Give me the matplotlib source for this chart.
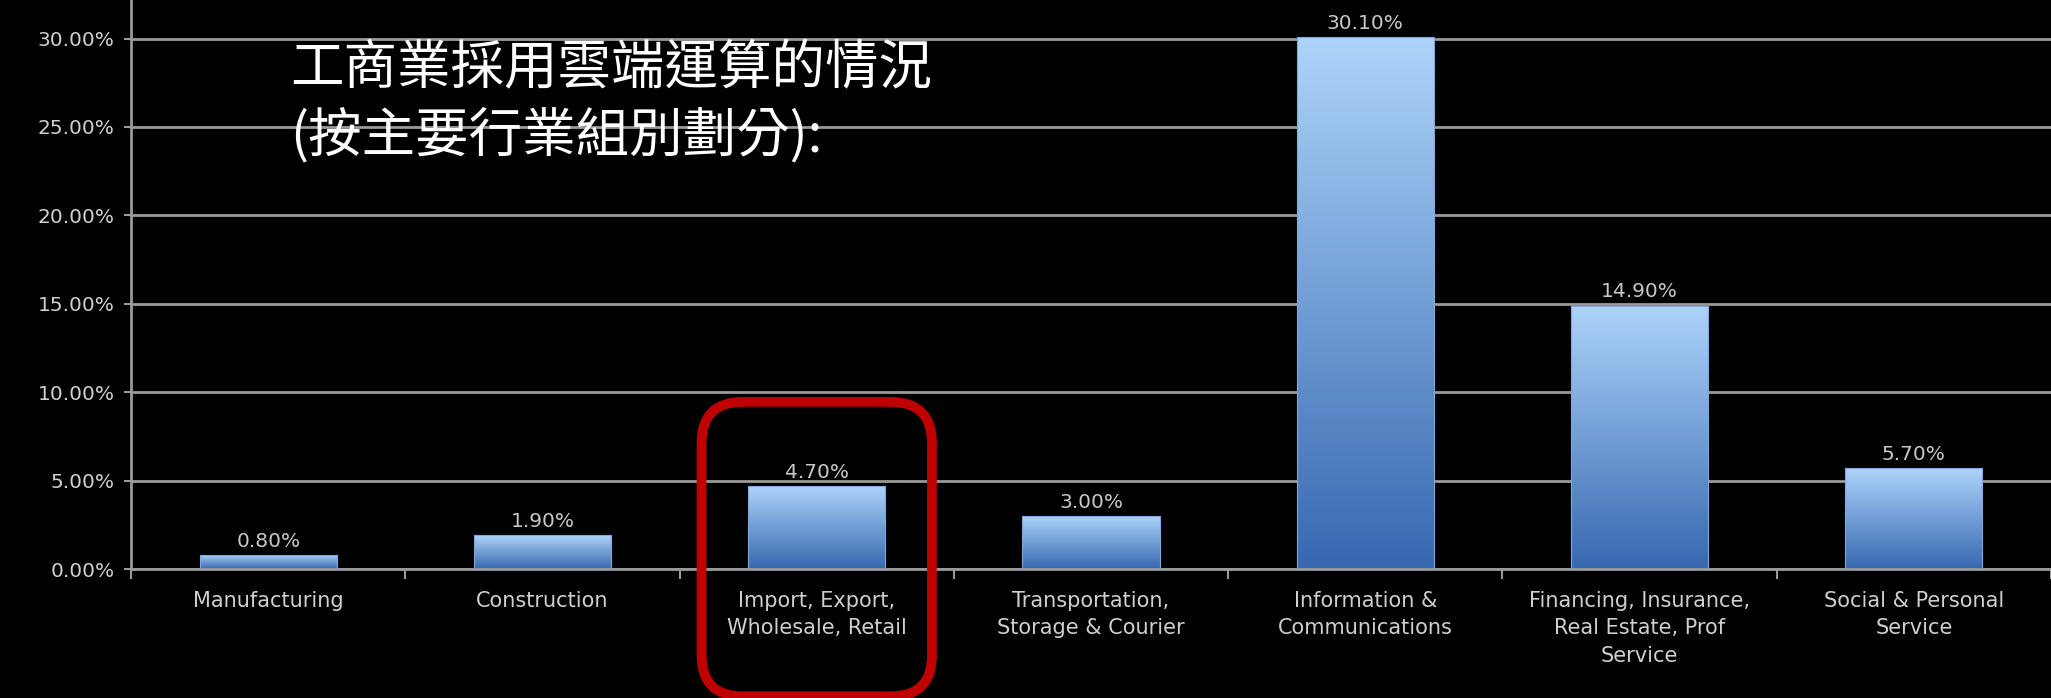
import numpy as np
import matplotlib
matplotlib.use("Agg")
import matplotlib.pyplot as plt
from matplotlib.patches import FancyBboxPatch
from matplotlib.colors import LinearSegmentedColormap

categories = [
    "Manufacturing",
    "Construction",
    "Import, Export,\nWholesale, Retail",
    "Transportation,\nStorage & Courier",
    "Information &\nCommunications",
    "Financing, Insurance,\nReal Estate, Prof\nService",
    "Social & Personal\nService",
]
values = [0.8, 1.9, 4.7, 3.0, 30.1, 14.9, 5.7]
y_ticks = [0, 5, 10, 15, 20, 25, 30]
title_lines = ["工商業採用雲端運算的情況", "(按主要行業組別劃分):"]
highlight = 2  # category circled in red

fig = plt.figure(figsize=(20.51, 6.98), dpi=100, facecolor="black")
ax = fig.add_axes([0.0639, 0.1848, 0.9361, 0.8152], facecolor="black")

x = np.arange(len(categories))
bars = ax.bar(x, values, width=0.5, color="none", edgecolor="#7fa9dc",
              linewidth=0.8, zorder=3)

# vertical blue gradient inside every bar
grad_cmap = LinearSegmentedColormap.from_list("bar", ["#3768b0", "#aed4fb"])
grad = np.linspace(0, 1, 256).reshape(-1, 1)
for b in bars:
    x0, w, h = b.get_x(), b.get_width(), b.get_height()
    im = ax.imshow(grad, cmap=grad_cmap, origin="lower", aspect="auto",
                   extent=[x0, x0 + w, 0, h], zorder=2, interpolation="bilinear")
    im.set_clip_path(b)

for xi, v in zip(x, values):
    ax.annotate(f"{v:.2f}%", (xi, v), xytext=(0, 3), textcoords="offset points",
                ha="center", va="bottom", color="#c8c8c8", fontsize=14.5,
                family="DejaVu Sans")

ax.set_xlim(-0.5, len(categories) - 0.5)
ax.set_ylim(0, 32.18)

grid_col = "#9a9a9a"
ax.set_yticks(y_ticks)
ax.set_yticklabels([f"{t:.2f}%" for t in y_ticks])
ax.yaxis.grid(True, color=grid_col, linewidth=2.0, zorder=0)
ax.set_axisbelow(True)

ax.set_xticks(np.arange(-0.5, len(categories), 1.0))
ax.set_xticklabels([])
ax.set_xticks(x, minor=True)
ax.set_xticklabels(categories, minor=True, linespacing=1.45)
ax.tick_params(axis="x", which="major", length=7, width=1.5, color=grid_col)
ax.tick_params(axis="x", which="minor", length=0, pad=16, labelsize=15,
               labelcolor="#cfcfcf")
ax.tick_params(axis="y", length=5, width=1.5, color=grid_col, pad=7,
               labelsize=14.5, labelcolor="#cfcfcf")

for side in ["top", "right"]:
    ax.spines[side].set_visible(False)
ax.spines["left"].set_color(grid_col)
ax.spines["left"].set_linewidth(2.0)
ax.spines["bottom"].set_color(grid_col)
ax.spines["bottom"].set_linewidth(2.0)

# red rounded box around the highlighted category
box = FancyBboxPatch((highlight - 0.42, -7.2), 0.84, 16.65,
                     boxstyle="round,pad=0,rounding_size=0.15",
                     mutation_aspect=15.5, fill=False, edgecolor="#c00000",
                     linewidth=7, clip_on=False, zorder=5)
ax.add_patch(box)

fig.text(0.1414, 0.902, title_lines[0], color="white", fontsize=38.5,
         family=["Noto Sans CJK TC", "DejaVu Sans"], va="center", ha="left")
fig.text(0.1414, 0.806, title_lines[1], color="white", fontsize=38.5,
         family=["Noto Sans CJK TC", "DejaVu Sans"], va="center", ha="left")

fig.savefig("out.png", dpi=100, facecolor="black")
